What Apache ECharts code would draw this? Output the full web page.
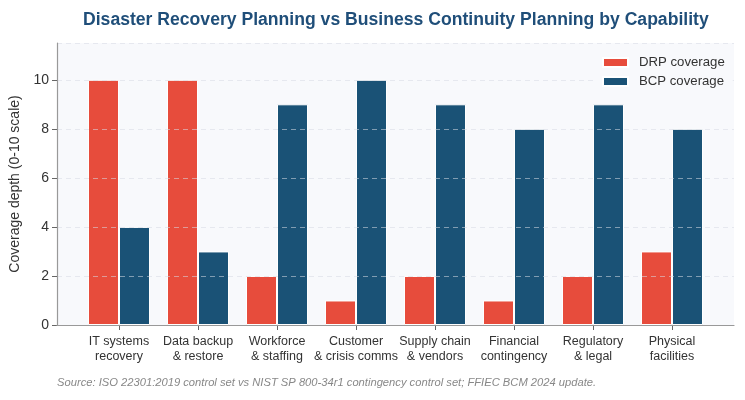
<!DOCTYPE html>
<html>
<head>
<meta charset="utf-8">
<script src="https://cdn.jsdelivr.net/npm/echarts@6/dist/echarts.min.js"></script>
<style>
  html, body { margin: 0; padding: 0; background: #fff; }
  #chart { width: 745px; height: 400px; }
</style>
</head>
<body>
<div id="chart"></div>
<script>
const categories = [
  "IT systems\nrecovery",
  "Data backup\n& restore",
  "Workforce\n& staffing",
  "Customer\n& crisis comms",
  "Supply chain\n& vendors",
  "Financial\ncontingency",
  "Regulatory\n& legal",
  "Physical\nfacilities",
];
const drpValues = [10, 10, 2, 1, 2, 1, 2, 3];
const bcpValues = [4, 3, 9, 10, 9, 8, 9, 8];
const seriesNames = ["DRP coverage", "BCP coverage"];

const font = "Liberation Sans, Arial, sans-serif";
const chart = echarts.init(document.getElementById("chart"));

const option = {
  animation: false,
  textStyle: { fontFamily: font },
  title: {
    text: "Disaster Recovery Planning vs Business Continuity Planning by Capability",
    left: 78,
    top: 6,
    textStyle: { color: "#1f4e79", fontSize: 17.6, fontWeight: "bold", fontFamily: font },
  },
  legend: {
    orient: "vertical",
    left: 594,
    top: 51,
    padding: [5, 8, 5, 8],
    z: 8,
    backgroundColor: "#f8f9fc",
    itemWidth: 25,
    itemHeight: 9,
    itemGap: 6,
    icon: "rect",
    textStyle: { color: "#333", fontSize: 13.2, fontFamily: font, padding: [0, 0, 0, 6] },
    data: seriesNames,
  },
  grid: [
    // frame grid: background, axis lines, y labels
    { left: 57, right: 11, top: 43, bottom: 75, show: true, backgroundColor: "#f8f9fc", borderWidth: 0 },
    // bar grid
    { left: 79.5, right: 33.5, top: 43, bottom: 75 },
  ],
  xAxis: [
    {
      gridIndex: 0,
      type: "value",
      min: 0,
      max: 1,
      z: 6,
      axisLine: { show: true, lineStyle: { color: "#999", width: 1.2 } },
      axisTick: { show: false },
      axisLabel: { show: false },
      splitLine: { show: false },
    },
    {
      gridIndex: 1,
      type: "category",
      data: categories,
      axisLine: { show: false },
      axisTick: { show: true, alignWithLabel: true, length: 5, lineStyle: { color: "#666" } },
      axisLabel: { color: "#333", fontSize: 12.5, lineHeight: 15, margin: 9, interval: 0 },
    },
  ],
  yAxis: [
    {
      gridIndex: 0,
      type: "value",
      min: 0,
      max: 11.5,
      interval: 2,
      z: 5,
      name: "Coverage depth (0-10 scale)",
      nameLocation: "middle",
      nameGap: 29,
      nameTextStyle: { color: "#333", fontSize: 14 },
      axisLine: { show: true, lineStyle: { color: "#999", width: 1.2 } },
      axisTick: { show: true, length: 5, lineStyle: { color: "#666" } },
      axisLabel: { color: "#333", fontSize: 14, margin: 8, showMaxLabel: false },
      splitLine: { show: true, lineStyle: { color: "rgba(215,218,228,0.55)", type: [5, 4], width: 1 } },
    },
    {
      gridIndex: 1,
      type: "value",
      min: 0,
      max: 11.5,
      show: false,
    },
  ],
  graphic: [
    {
      type: "text",
      left: 57,
      top: 377,
      style: {
        text: "Source: ISO 22301:2019 control set vs NIST SP 800-34r1 contingency control set; FFIEC BCM 2024 update.",
        fill: "#888",
        font: "italic 11.2px Liberation Sans, Arial, sans-serif",
      },
    },
  ],
  series: [
    {
      name: seriesNames[0],
      type: "bar",
      xAxisIndex: 1,
      yAxisIndex: 1,
      data: drpValues,
      barWidth: 31,
      barGap: "0%",
      itemStyle: { color: "#e74c3c", borderColor: "#fff", borderWidth: 1 },
    },
    {
      name: seriesNames[1],
      type: "bar",
      xAxisIndex: 1,
      yAxisIndex: 1,
      data: bcpValues,
      barWidth: 31,
      itemStyle: { color: "#1a5276", borderColor: "#fff", borderWidth: 1 },
    },
  ],
};

chart.setOption(option);
</script>
</body>
</html>
